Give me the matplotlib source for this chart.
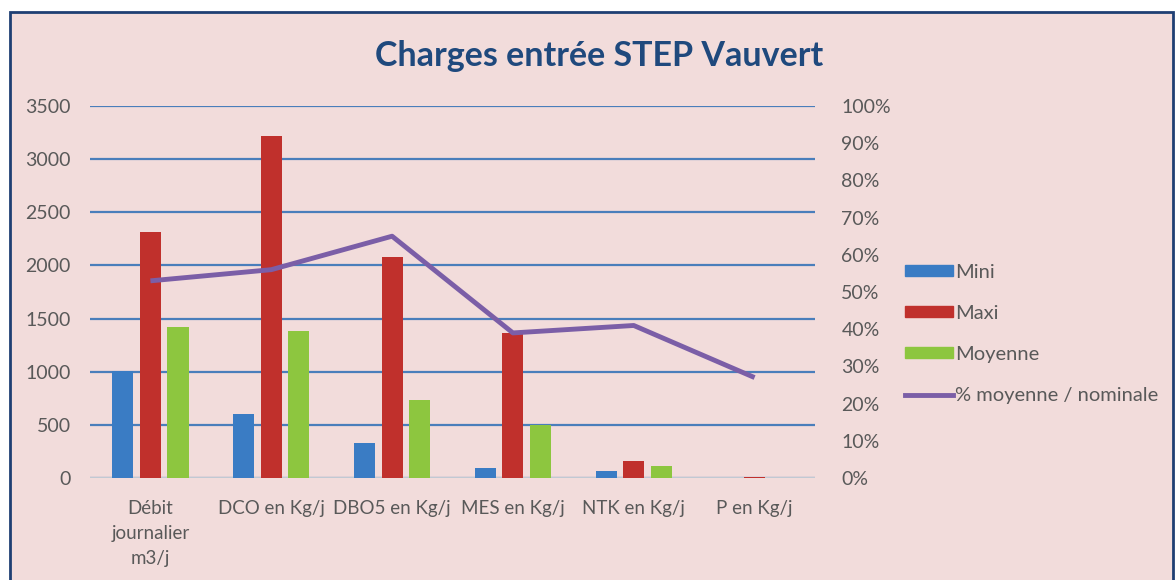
import matplotlib.pyplot as plt
import matplotlib.patches as mpatches
from matplotlib.lines import Line2D
import numpy as np

plt.rcParams['font.family'] = ['Lato', 'DejaVu Sans']

# données
categories = ['Débit\njournalier\nm3/j', 'DCO en Kg/j', 'DBO5 en Kg/j',
              'MES en Kg/j', 'NTK en Kg/j', 'P en Kg/j']
mini = [1010, 602, 330, 94, 66, 2]
maxi = [2315, 3218, 2080, 1365, 160, 12]
moyenne = [1421, 1383, 734, 500, 113, 3]
pct_moy_nom = [0.53, 0.56, 0.65, 0.39, 0.41, 0.27]

bg = '#f2dcdb'
c_mini = '#3a7cc4'
c_maxi = '#c0302c'
c_moy = '#8dc63f'
c_line = '#7b5ea7'
c_grid = '#4a7ebb'
c_txt = '#595959'

fig = plt.figure(figsize=(11.75, 5.8), dpi=100)
fig.patch.set_facecolor('white')
# fond du graphique + bordure
cadre = mpatches.Rectangle((10 / 1175, -0.01), 1163 / 1175, 568 / 580 + 0.01,
                           transform=fig.transFigure, facecolor=bg,
                           edgecolor='#1f3f73', linewidth=2, zorder=-10)
fig.add_artist(cadre)

ax = fig.add_axes([90 / 1175, 1 - 478 / 580, 725 / 1175, 372 / 580])
ax.set_facecolor('none')
x = np.arange(len(categories))
w = 0.175
sp = 0.228
ax.bar(x - sp, mini, w, color=c_mini, zorder=3)
ax.bar(x, maxi, w, color=c_maxi, zorder=3)
ax.bar(x + sp, moyenne, w, color=c_moy, zorder=3)

ax.set_xlim(-0.5, len(categories) - 0.5)
ax.set_ylim(0, 3500)
ax.set_yticks(np.arange(0, 3501, 500))
ax.yaxis.grid(True, color=c_grid, linewidth=1.6, zorder=1)
ax.set_axisbelow(True)
for s in ax.spines.values():
    s.set_visible(False)
ax.axhline(0, color='#d9d9d9', linewidth=1.2, zorder=2)
ax.tick_params(axis='both', length=0, colors=c_txt)
ax.tick_params(axis='y', pad=14, labelsize=14)
ax.tick_params(axis='x', pad=16, labelsize=13.5)
ax.set_xticks(x)
ax.set_xticklabels(categories, linespacing=1.55)

ax2 = ax.twinx()
ax2.plot(x, pct_moy_nom, color=c_line, linewidth=3.5, zorder=4, solid_capstyle='butt')
ax2.set_ylim(0, 1)
ax2.set_yticks(np.arange(0, 1.01, 0.1))
ax2.set_yticklabels([f'{int(round(v * 100))}%' for v in np.arange(0, 1.01, 0.1)])
for s in ax2.spines.values():
    s.set_visible(False)
ax2.tick_params(axis='y', length=0, colors=c_txt, labelsize=14, pad=19)

fig.text(599 / 1175, 1 - 56 / 580, 'Charges entrée STEP Vauvert', ha='center', va='center',
         fontsize=24.5, fontweight='bold', color='#1f497d')

handles = [mpatches.Patch(color=c_mini), mpatches.Patch(color=c_maxi),
           mpatches.Patch(color=c_moy), Line2D([], [], color=c_line, linewidth=3.5)]
labels = ['Mini', 'Maxi', 'Moyenne', '% moyenne / nominale']
leg = fig.legend(handles, labels, loc='center left', bbox_to_anchor=(905 / 1175, 1 - 334 / 580),
                 frameon=False, fontsize=14.5, handlelength=2.4, handleheight=0.45,
                 handletextpad=0.1, labelspacing=1.2, borderaxespad=0, borderpad=0)
for t in leg.get_texts():
    t.set_color(c_txt)

fig.savefig('out.png', dpi=100, facecolor=fig.get_facecolor())
